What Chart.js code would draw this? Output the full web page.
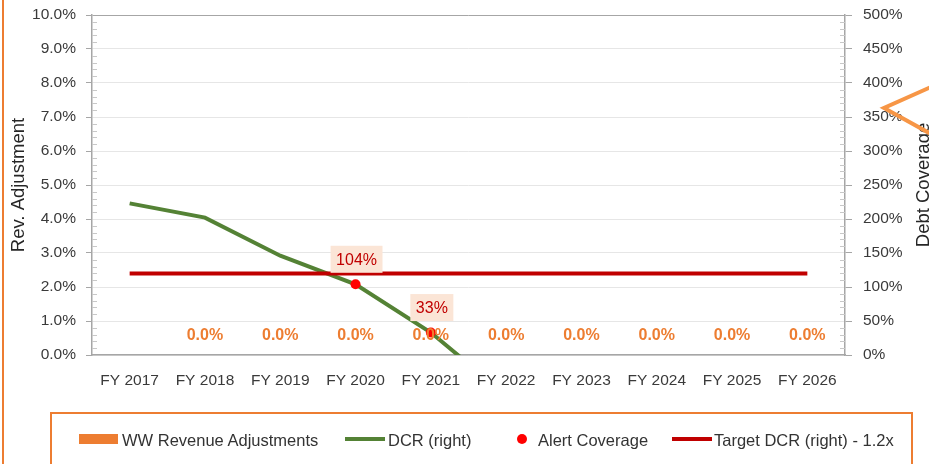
<!DOCTYPE html>
<html>
<head>
<meta charset="utf-8">
<script src="https://cdn.jsdelivr.net/npm/chart.js@4.4.1/dist/chart.umd.min.js"></script>
<style>
  body { margin: 0; background: #fff; }
  #wrap { position: relative; width: 929px; height: 464px; overflow: hidden; }
  #legend { position: absolute; left: 50px; top: 412px; width: 863px; height: 60px;
            border: 2px solid #ED7D31; box-sizing: border-box; }
  .item { position: absolute; top: 16px; font: 16.5px "Liberation Sans", Arial, sans-serif;
          color: #333; white-space: nowrap; line-height: 20px; }
  .swatch { position: absolute; }
</style>
</head>
<body>
<div id="wrap">
  <canvas id="chart" width="929" height="464"></canvas>
  <div id="legend"></div>
</div>
<script>
const years = ['FY 2017', 'FY 2018', 'FY 2019', 'FY 2020', 'FY 2021',
               'FY 2022', 'FY 2023', 'FY 2024', 'FY 2025', 'FY 2026'];
// left axis, percent
const revAdjustments = [null, 0, 0, 0, 0, 0, 0, 0, 0, 0];
// right axis, percent
const dcr = [223, 202, 146, 104, 33, -59, null, null, null, null];
const alertCoverage = [null, null, null, 104, 33, null, null, null, null, null];
const targetDcr = [120, 120, 120, 120, 120, 120, 120, 120, 120, 120];

const seriesNames = ['WW Revenue Adjustments', 'DCR (right)', 'Alert Coverage', 'Target DCR (right) - 1.2x'];

const ORANGE = '#ED7D31';
const GREEN = '#548235';
const RED = '#FF0000';
const DARKRED = '#C00000';
const AXIS = '#A6A6A6';
const TEXT = '#3A3A3A';
const FONT = '"Liberation Sans", Arial, sans-serif';

// labels, minor ticks, frame and the arrow callout
const decorPlugin = {
    id: 'decor',
    beforeDraw(chart) {
        const ctx = chart.ctx;
        ctx.save();
        ctx.fillStyle = ORANGE;
        ctx.fillRect(2, 0, 2, chart.height);
        ctx.restore();
    },
    afterDatasetsDraw(chart) {
        const ctx = chart.ctx;
        const y = chart.scales.y, y1 = chart.scales.y1;
        ctx.save();
        // minor ticks (inside)
        ctx.strokeStyle = '#C8C8C8';
        ctx.lineWidth = 1;
        for (let v = 0; v <= 10.001; v += 0.2) {
            if (Math.abs(v - Math.round(v)) < 0.01) continue;
            const py = Math.round(y.getPixelForValue(v)) + 0.5;
            ctx.beginPath(); ctx.moveTo(y.right, py); ctx.lineTo(y.right + 5, py); ctx.stroke();
        }
        for (let v = 0; v <= 500; v += 10) {
            if (v % 50 === 0) continue;
            const py = Math.round(y1.getPixelForValue(v)) + 0.5;
            ctx.beginPath(); ctx.moveTo(y1.left - 5, py); ctx.lineTo(y1.left, py); ctx.stroke();
        }

        // bar data labels
        ctx.font = 'bold 16px ' + FONT;
        ctx.fillStyle = ORANGE;
        ctx.textAlign = 'center';
        ctx.textBaseline = 'middle';
        chart.getDatasetMeta(0).data.forEach((el, i) => {
            if (revAdjustments[i] === null) return;
            ctx.fillText(revAdjustments[i].toFixed(1) + '%', el.x, el.y - 19);
        });

        // alert coverage labels
        ctx.font = '16px ' + FONT;
        chart.getDatasetMeta(2).data.forEach((el, i) => {
            if (alertCoverage[i] === null) return;
            const txt = alertCoverage[i] + '%';
            const w = ctx.measureText(txt).width + 11;
            const cy = el.y - 25;
            ctx.fillStyle = '#FBE5D6';
            ctx.fillRect(el.x - w / 2 + 1, cy - 13.5, w, 27);
            ctx.fillStyle = DARKRED;
            ctx.fillText(txt, el.x + 1, cy + 1);
        });
        ctx.restore();
    },
    afterDraw(chart) {
        const ctx = chart.ctx;
        const area = chart.chartArea;
        ctx.save();
        // right axis title, reading upward
        ctx.translate(924, (area.top + area.bottom) / 2);
        ctx.rotate(-Math.PI / 2);
        ctx.font = '18.5px ' + FONT;
        ctx.fillStyle = '#262626';
        ctx.textAlign = 'center';
        ctx.textBaseline = 'middle';
        ctx.fillText('Debt Coverage', 0, 0);
        ctx.restore();

        // arrow callout at the right edge
        ctx.save();
        ctx.strokeStyle = '#F79646';
        ctx.lineWidth = 4;
        ctx.lineJoin = 'miter';
        ctx.beginPath();
        ctx.moveTo(931, 87);
        ctx.lineTo(884, 108);
        ctx.lineTo(931, 134);
        ctx.stroke();
        ctx.restore();
    }
};

new Chart(document.getElementById('chart'), {
    type: 'bar',
    data: {
        labels: years,
        datasets: [
            { label: seriesNames[0], data: revAdjustments, backgroundColor: ORANGE, yAxisID: 'y', order: 3 },
            { type: 'line', label: seriesNames[1], data: dcr, borderColor: GREEN, borderWidth: 4,
              pointRadius: 0, tension: 0, yAxisID: 'y1', order: 2 },
            { type: 'line', label: seriesNames[2], data: alertCoverage, showLine: false,
              pointRadius: 5, pointBackgroundColor: RED, pointBorderWidth: 0, yAxisID: 'y1', order: 0 },
            { type: 'line', label: seriesNames[3], data: targetDcr, borderColor: DARKRED, borderWidth: 4,
              pointRadius: 0, yAxisID: 'y1', order: 1 }
        ]
    },
    options: {
        responsive: false,
        animation: false,
        layout: { padding: { top: 15, left: 0, right: 0, bottom: 0 } },
        plugins: { legend: { display: false }, tooltip: { enabled: false } },
        scales: {
            x: {
                grid: { display: false },
                border: { color: AXIS, width: 1.5 },
                ticks: { color: TEXT, font: { family: FONT, size: 15.5 }, padding: 8, maxRotation: 0 },
                afterFit: s => { s.height = 109; }
            },
            y: {
                position: 'left',
                min: 0, max: 10,
                ticks: { stepSize: 1, color: TEXT, font: { family: FONT, size: 15.5 }, padding: 10,
                         callback: v => v.toFixed(1) + '%' },
                grid: { color: c => c.tick && c.tick.value === 10 ? AXIS : '#E6E6E6',
                        tickColor: AXIS, tickLength: 6, lineWidth: 1 },
                border: { color: AXIS, width: 1.5 },
                title: { display: true, text: 'Rev. Adjustment', color: '#262626',
                         font: { family: FONT, size: 18.5 }, padding: { top: 8, bottom: 0 } },
                afterFit: s => { s.width = 92; s.paddingTop = 0; s.paddingBottom = 0; }
            },
            y1: {
                position: 'right',
                min: 0, max: 500,
                ticks: { stepSize: 50, color: TEXT, font: { family: FONT, size: 15.5 }, padding: 11,
                         callback: v => v + '%' },
                grid: { drawOnChartArea: false, tickColor: AXIS, tickLength: 7 },
                border: { color: AXIS, width: 1.5 },
                afterFit: s => { s.width = 84; s.paddingTop = 0; s.paddingBottom = 0; }
            }
        }
    },
    plugins: [decorPlugin]
});

// legend (box with four entries)
const legend = document.getElementById('legend');
const legendItems = [
    { name: seriesNames[0], x: 122, swatch: { left: 27, top: 20, width: 39, height: 10, background: ORANGE } },
    { name: seriesNames[1], x: 388, swatch: { left: 293, top: 23, width: 40, height: 4, background: GREEN } },
    { name: seriesNames[2], x: 538, swatch: { left: 465, top: 20, width: 10, height: 10, background: RED, borderRadius: '50%' } },
    { name: seriesNames[3], x: 714, swatch: { left: 620, top: 23, width: 40, height: 4, background: DARKRED } }
];
legendItems.forEach(it => {
    const sw = document.createElement('div');
    sw.className = 'swatch';
    Object.entries(it.swatch).forEach(([k, v]) => { sw.style[k] = typeof v === 'number' ? v + 'px' : v; });
    legend.appendChild(sw);
    const t = document.createElement('div');
    t.className = 'item';
    t.style.left = (it.x - 52) + 'px';
    t.textContent = it.name;
    legend.appendChild(t);
});
</script>
</body>
</html>
